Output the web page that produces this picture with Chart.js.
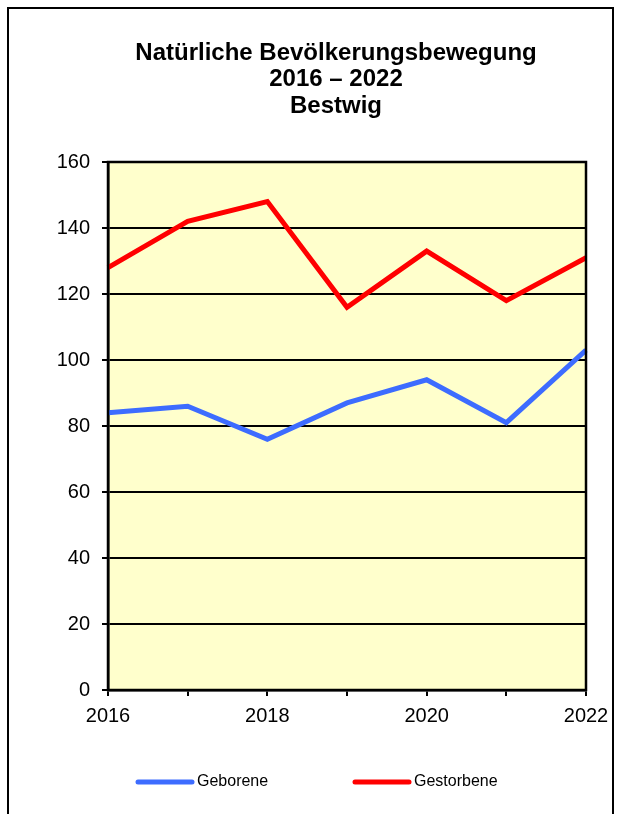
<!DOCTYPE html>
<html>
<head>
<meta charset="utf-8">
<script src="https://cdn.jsdelivr.net/npm/chart.js@4/dist/chart.umd.min.js"></script>
<style>
  html, body { margin: 0; padding: 0; background: #fff; }
  #wrap { width: 621px; height: 814px; }
</style>
</head>
<body>
<div id="wrap"><canvas id="chart" width="621" height="814"></canvas></div>
<script>
const years = ['2016', '2017', '2018', '2019', '2020', '2021', '2022'];
const geborene = [84, 86, 76, 87, 94, 81, 103];
const gestorbene = [128, 142, 148, 116, 133, 118, 131];
const titleLines = ['Natürliche Bevölkerungsbewegung', '2016 – 2022', 'Bestwig'];

const FONT = '"Liberation Sans", Arial, sans-serif';

const framePlugin = {
    id: 'frame',
    beforeDraw(chart) {
        const ctx = chart.ctx;
        const a = chart.chartArea;
        ctx.save();
        ctx.fillStyle = '#fff';
        ctx.fillRect(0, 0, chart.width, chart.height);
        ctx.fillStyle = '#ffffcc';
        ctx.fillRect(a.left, a.top, a.right - a.left, a.bottom - a.top);
        // outer frame
        ctx.strokeStyle = '#000';
        ctx.lineWidth = 2;
        ctx.strokeRect(8, 8, 605, 900);
        // title
        ctx.fillStyle = '#000';
        ctx.font = 'bold 24px ' + FONT;
        ctx.textAlign = 'center';
        ctx.textBaseline = 'middle';
        titleLines.forEach((t, i) => ctx.fillText(t, 336, 53 + i * 26.5));
        ctx.restore();
    },
    afterDraw(chart) {
        const ctx = chart.ctx;
        const a = chart.chartArea;
        ctx.save();
        ctx.strokeStyle = '#000';
        ctx.lineWidth = 2.5;
        ctx.strokeRect(a.left, a.top, a.right - a.left, a.bottom - a.top);
        // legend
        const items = [
            { x: 138, ds: chart.data.datasets[0] },
            { x: 355, ds: chart.data.datasets[1] }
        ];
        ctx.font = '16px ' + FONT;
        ctx.textAlign = 'left';
        ctx.textBaseline = 'middle';
        items.forEach(it => {
            ctx.strokeStyle = it.ds.borderColor;
            ctx.lineWidth = 5;
            ctx.lineCap = 'round';
            ctx.beginPath();
            ctx.moveTo(it.x, 782);
            ctx.lineTo(it.x + 54, 782);
            ctx.stroke();
            ctx.fillStyle = '#000';
            ctx.fillText(it.ds.label, it.x + 59, 782);
        });
        ctx.restore();
    }
};

new Chart(document.getElementById('chart'), {
    type: 'line',
    data: {
        labels: years,
        datasets: [
            {
                label: 'Geborene',
                data: geborene,
                borderColor: '#3d6cff',
                borderWidth: 5,
                pointRadius: 0,
                tension: 0
            },
            {
                label: 'Gestorbene',
                data: gestorbene,
                borderColor: '#ff0000',
                borderWidth: 5,
                pointRadius: 0,
                tension: 0
            }
        ]
    },
    options: {
        responsive: false,
        animation: false,
        layout: { padding: { top: 162, right: 35, left: 0, bottom: 0 } },
        plugins: {
            legend: { display: false },
            title: { display: false },
            tooltip: { enabled: false }
        },
        scales: {
            x: {
                offset: false,
                grid: {
                    display: true,
                    drawOnChartArea: false,
                    color: '#000',
                    lineWidth: 2,
                    tickLength: 6
                },
                border: { color: '#000', width: 2.5 },
                ticks: {
                    autoSkip: false,
                    maxRotation: 0,
                    padding: 8,
                    color: '#000',
                    font: { family: FONT, size: 20 },
                    callback: (v, i) => (i % 2 === 0 ? years[i] : '')
                },
                afterFit: s => { s.height = 124; }
            },
            y: {
                min: 0,
                max: 160,
                ticks: {
                    stepSize: 20,
                    padding: 12,
                    color: '#000',
                    font: { family: FONT, size: 20 }
                },
                grid: {
                    color: '#000',
                    lineWidth: 2,
                    tickLength: 6
                },
                border: { color: '#000', width: 2.5 },
                afterFit: s => { s.width = 108; }
            }
        }
    },
    plugins: [framePlugin]
});
</script>
</body>
</html>
